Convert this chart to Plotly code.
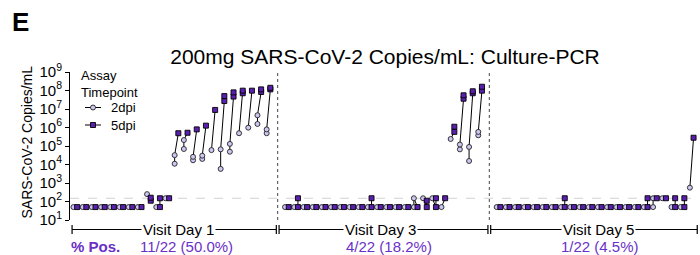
import plotly.graph_objects as go

# ---------------- data (copies/mL) ----------------
B = 50     # below-LOD placeholder value
L = 150    # limit of detection

visit_labels = ["Visit Day 1", "Visit Day 3", "Visit Day 5"]
pos_labels = ["11/22 (50.0%)", "4/22 (18.2%)", "1/22 (4.5%)"]
legend_names = ["2dpi", "5dpi"]

ytick_vals = [1e1, 1e2, 1e3, 1e4, 1e5, 1e6, 1e7, 1e8, 1e9]
ytick_text = ["10<sup>1</sup>", "10<sup>2</sup>", "10<sup>3</sup>", "10<sup>4</sup>",
              "10<sup>5</sup>", "10<sup>6</sup>", "10<sup>7</sup>", "10<sup>8</sup>",
              "10<sup>9</sup>"]

# each subject: list of replicate values
day1_2dpi = [[B], [B], [B], [B], [B], [B], [B], [B],
             [250], [B], [L],
             [1.1e4, 3.2e4], [6.9e4, 2.1e5], [1.7e4, 2.6e4], [2.0e4, 3.0e4], [6.0e4],
             [5.8e3, 6.6e4], [4.9e4, 1.3e5], [4.9e5], [9.8e5], [1.55e6, 4.6e6], [4.9e5, 7.9e5]]
day1_5dpi = [[B], [B], [B], [B], [B], [B], [B], [B],
             [110, 160], [B, L], [L],
             [4.9e5], [5.2e5], [7.9e5], [1.26e6], [8.9e6],
             [2.7e7, 5.0e7], [4.7e7, 7.9e7], [7.1e7, 9.8e7], [9.8e7], [8.3e7, 1.15e8], [1.15e8, 1.4e8]]

day3_2dpi = [[B], [B], [B], [B], [B], [B], [B], [B], [B], [B], [B], [B], [B], [B],
             [B, L], [L], [L], [B],
             [2.4e5], [6.6e4, 1.2e5], [1.55e4, 8.9e4], [3.8e5, 5.8e5]]
day3_5dpi = [[B], [B, L], [B], [B], [B], [B], [B], [B], [B], [B, L], [B], [B], [B], [B],
             [B], [B, 110], [B, L], [L],
             [5.8e5, 1.1e6], [3.6e7, 5.5e7], [7.1e7, 9.1e7], [9.8e7, 1.6e8]]

day5_2dpi = [[B], [B], [B], [B], [B], [B], [B], [B], [B], [B], [B], [B], [B], [B], [B], [B],
             [B], [B, L], [L], [B], [B], [560]]
day5_5dpi = [[B], [B], [B], [B], [B], [B], [B], [B, L], [B], [B], [B], [B], [B], [B], [B], [B],
             [B, L], [L], [L], [B, L], [B, L], [2.8e5]]

panels_2dpi = [day1_2dpi, day3_2dpi, day5_2dpi]
panels_5dpi = [day1_5dpi, day3_5dpi, day5_5dpi]

# ---------------- style ----------------
PURPLE_TXT = "#6a30c8"
SQ_FILL = "#5a1fae"
CI_FILL = "#cdc6f0"
FONT = "Liberation Sans, Arial, sans-serif"

GROUP_STRIDE = 23     # 22 subjects + one gap slot
OFF = 0.2             # 2dpi left / 5dpi right of subject slot
XMIN, XMAX = -0.575, 67.9
PLOT_L, PLOT_W = 70, 630
PLOT_B, PLOT_H = 220, 148


def px2paper_x(px):
    return (px - PLOT_L) / PLOT_W


def px2paper_y(py):
    return (PLOT_B - py) / PLOT_H


def u2paper(u):
    return (u - XMIN) / (XMAX - XMIN)


# ---------------- traces ----------------
cx, cy, sx, sy, lx, ly = [], [], [], [], [], []
for g, (p2, p5) in enumerate(zip(panels_2dpi, panels_5dpi)):
    for i, (c, s) in enumerate(zip(p2, p5)):
        xc = g * GROUP_STRIDE + i
        for v in c:
            cx.append(xc - OFF)
            cy.append(v)
        for v in s:
            sx.append(xc + OFF)
            sy.append(v)
        for v in sorted(c):
            lx.append(xc - OFF)
            ly.append(v)
        for v in sorted(s):
            lx.append(xc + OFF)
            ly.append(v)
        lx.append(None)
        ly.append(None)

circle_marker = dict(symbol="circle", size=5, color=CI_FILL, line=dict(color="#222222", width=0.9))
square_marker = dict(symbol="square", size=5, color=SQ_FILL, line=dict(color="black", width=0.9))

fig = go.Figure()
fig.add_trace(go.Scatter(x=[XMIN, XMAX], y=[L, L], mode="lines",
                         line=dict(color="#d2d2d2", width=1.2, dash="dash"),
                         showlegend=False, hoverinfo="skip"))
fig.add_trace(go.Scatter(x=lx, y=ly, mode="lines", line=dict(color="black", width=1),
                         showlegend=False, hoverinfo="skip"))
fig.add_trace(go.Scatter(x=cx, y=cy, mode="markers", name=legend_names[0],
                         marker=circle_marker, showlegend=False))
fig.add_trace(go.Scatter(x=sx, y=sy, mode="markers", name=legend_names[1],
                         marker=square_marker, showlegend=False))

shapes = []
for g in (1, 2):
    xs = g * GROUP_STRIDE - 1
    shapes.append(dict(type="line", xref="x", yref="paper", x0=xs, x1=xs, y0=0, y1=1,
                       line=dict(color="#444444", width=1, dash="dot")))

seg_bounds = [(-0.35, 21.85), (22.15, 44.85), (45.15, 67.6)]
yb = px2paper_y(229.5)
yt0, yt1 = px2paper_y(225), px2paper_y(234)
for a, b in seg_bounds:
    shapes.append(dict(type="line", xref="paper", yref="paper", x0=u2paper(a), x1=u2paper(b),
                       y0=yb, y1=yb, line=dict(color="black", width=1)))
    for e in (a, b):
        shapes.append(dict(type="line", xref="paper", yref="paper", x0=u2paper(e), x1=u2paper(e),
                           y0=yt0, y1=yt1, line=dict(color="black", width=1.2)))

annotations = []

# manual legend (symbols as shapes, labels as text)
leg_rows_py = [107.5, 125]
for name, py, kind in zip(legend_names, leg_rows_py, ("circle", "square")):
    yy = px2paper_y(py)
    shapes.append(dict(type="line", xref="paper", yref="paper", x0=px2paper_x(85),
                       x1=px2paper_x(101), y0=yy, y1=yy, line=dict(color="black", width=1)))
    if kind == "circle":
        shapes.append(dict(type="circle", xref="paper", yref="paper",
                           x0=px2paper_x(90.5), x1=px2paper_x(95.5),
                           y0=px2paper_y(py + 2.5), y1=px2paper_y(py - 2.5),
                           fillcolor=CI_FILL, line=dict(color="#222222", width=0.9)))
    else:
        shapes.append(dict(type="rect", xref="paper", yref="paper",
                           x0=px2paper_x(90.5), x1=px2paper_x(95.5),
                           y0=px2paper_y(py + 2.5), y1=px2paper_y(py - 2.5),
                           fillcolor=SQ_FILL, line=dict(color="black", width=0.9)))
    annotations.append(dict(text=name, xref="paper", yref="paper", x=px2paper_x(109), y=yy,
                            xanchor="left", yanchor="middle", showarrow=False,
                            font=dict(size=13, color="black", family=FONT)))
for t, py in (("Assay", 76), ("Timepoint", 92)):
    annotations.append(dict(text=t, xref="paper", yref="paper", x=px2paper_x(79),
                            y=px2paper_y(py), xanchor="left", yanchor="middle",
                            showarrow=False, font=dict(size=13, color="black", family=FONT)))

visit_px = [178, 380, 598]
pos_px = [186, 389, 600]
for t, xp in zip(visit_labels, visit_px):
    annotations.append(dict(text=t, xref="paper", yref="paper", x=px2paper_x(xp), y=yb,
                            xanchor="center", yanchor="middle", showarrow=False,
                            bgcolor="white", borderpad=1,
                            font=dict(size=15, color="black", family=FONT)))
for t, xp in zip(pos_labels, pos_px):
    annotations.append(dict(text=t, xref="paper", yref="paper", x=px2paper_x(xp),
                            y=px2paper_y(246), xanchor="center", yanchor="middle",
                            showarrow=False, font=dict(size=15, color=PURPLE_TXT, family=FONT)))
annotations.append(dict(text="<b>% Pos.</b>", xref="paper", yref="paper", x=px2paper_x(69),
                        y=px2paper_y(246), xanchor="left", yanchor="middle", showarrow=False,
                        font=dict(size=15, color=PURPLE_TXT, family=FONT)))
annotations.append(dict(text="<b>E</b>", xref="paper", yref="paper", x=px2paper_x(10),
                        y=px2paper_y(22), xanchor="left", yanchor="middle", showarrow=False,
                        font=dict(size=26, color="black", family=FONT)))
annotations.append(dict(text="SARS-CoV-2 Copies/mL", xref="paper", yref="paper",
                        x=px2paper_x(26), y=px2paper_y(142.5), textangle=-90,
                        xanchor="center", yanchor="middle", showarrow=False,
                        font=dict(size=14, color="black", family=FONT)))

fig.update_layout(
    width=700, height=255,
    margin=dict(l=PLOT_L, r=0, t=72, b=35, pad=0),
    paper_bgcolor="white", plot_bgcolor="white",
    font=dict(family=FONT, color="black"),
    showlegend=False,
    title=dict(text="200mg SARS-CoV-2 Copies/mL: Culture-PCR", x=px2paper_x(385), xref="paper",
               xanchor="center", y=1 - 57 / 255, yref="container", yanchor="middle",
               font=dict(size=21, color="black", family=FONT)),
    xaxis=dict(range=[XMIN, XMAX], visible=False, showgrid=False, zeroline=False),
    yaxis=dict(type="log", range=[1, 9], tickvals=ytick_vals, ticktext=ytick_text,
               ticks="outside", ticklen=4, tickwidth=1, tickcolor="black",
               showline=True, linecolor="black", linewidth=1, showgrid=False, zeroline=False,
               tickfont=dict(size=15, color="black", family=FONT)),
    shapes=shapes, annotations=annotations,
)

fig.write_html("out.html", config={"displayModeBar": False},
               post_script="document.body.style.margin='0px';")
